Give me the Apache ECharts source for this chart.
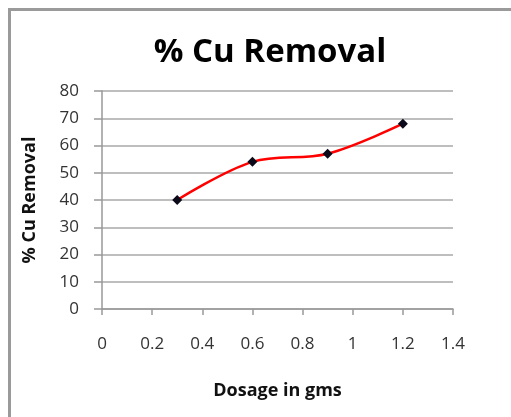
<!DOCTYPE html>
<html>
<head>
<meta charset="utf-8">
<script src="https://cdn.jsdelivr.net/npm/echarts@6/dist/echarts.min.js"></script>
<style>
  html, body { margin: 0; padding: 0; background: #fff; overflow: hidden; }
  #chart { width: 511px; height: 417px; }
</style>
</head>
<body>
<div id="chart"></div>
<script>
// data
const dosage = [0.3, 0.6, 0.9, 1.2]
const cuRemoval = [40, 54, 57, 68]

const titleText = "% Cu Removal"
const xName = "Dosage in gms"
const yName = "% Cu Removal"

const font = "'Open Sans', 'Noto Sans', sans-serif"

const chart = echarts.init(document.getElementById("chart"))
chart.setOption({
  animation: false,
  // outer frame: only top and left edges show in the picture
  graphic: [{
    type: "polyline",
    shape: { points: [[9.5, 420], [9.5, 9.5], [520, 9.5]] },
    style: { stroke: "#9a9a9a", lineWidth: 3, fill: null }
  }],
  title: {
    text: titleText,
    left: 265,
    textAlign: "center",
    top: 31,
    textStyle: { fontFamily: font, fontSize: 33, fontWeight: "bold", color: "#000" }
  },
  grid: { left: 102, right: 58, top: 91, bottom: 108 },
  xAxis: {
    type: "value",
    min: 0,
    max: 1.4,
    interval: 0.2,
    name: xName,
    nameLocation: "middle",
    nameGap: 73,
    nameTextStyle: { fontFamily: font, fontSize: 18, fontWeight: "bold", color: "#111" },
    axisLine: { show: true, lineStyle: { color: "#999", width: 1.5 } },
    axisTick: { show: true, length: 6, lineStyle: { color: "#999", width: 1.5 } },
    splitLine: { show: false },
    axisLabel: {
      fontFamily: font, fontSize: 17, color: "#333", margin: 27,
      formatter: v => String(Math.round(v * 10) / 10)
    }
  },
  yAxis: {
    type: "value",
    min: 0,
    max: 80,
    interval: 10,
    name: yName,
    nameLocation: "middle",
    nameGap: 63,
    nameTextStyle: { fontFamily: font, fontSize: 18, fontWeight: "bold", color: "#111" },
    axisLine: { show: true, lineStyle: { color: "#999", width: 1.5 } },
    axisTick: { show: true, length: 8, lineStyle: { color: "#999", width: 1.5 } },
    splitLine: { show: true, lineStyle: { color: "#a8a8a8", width: 1.5 } },
    axisLabel: { fontFamily: font, fontSize: 17, color: "#333", margin: 23 }
  },
  series: [{
    type: "line",
    data: dosage.map((x, i) => [x, cuRemoval[i]]),
    smooth: 0.35,
    symbol: "diamond",
    symbolSize: 10,
    itemStyle: { color: "#0a0a1a" },
    lineStyle: { color: "#ff0000", width: 2.5 }
  }]
})
</script>
</body>
</html>
